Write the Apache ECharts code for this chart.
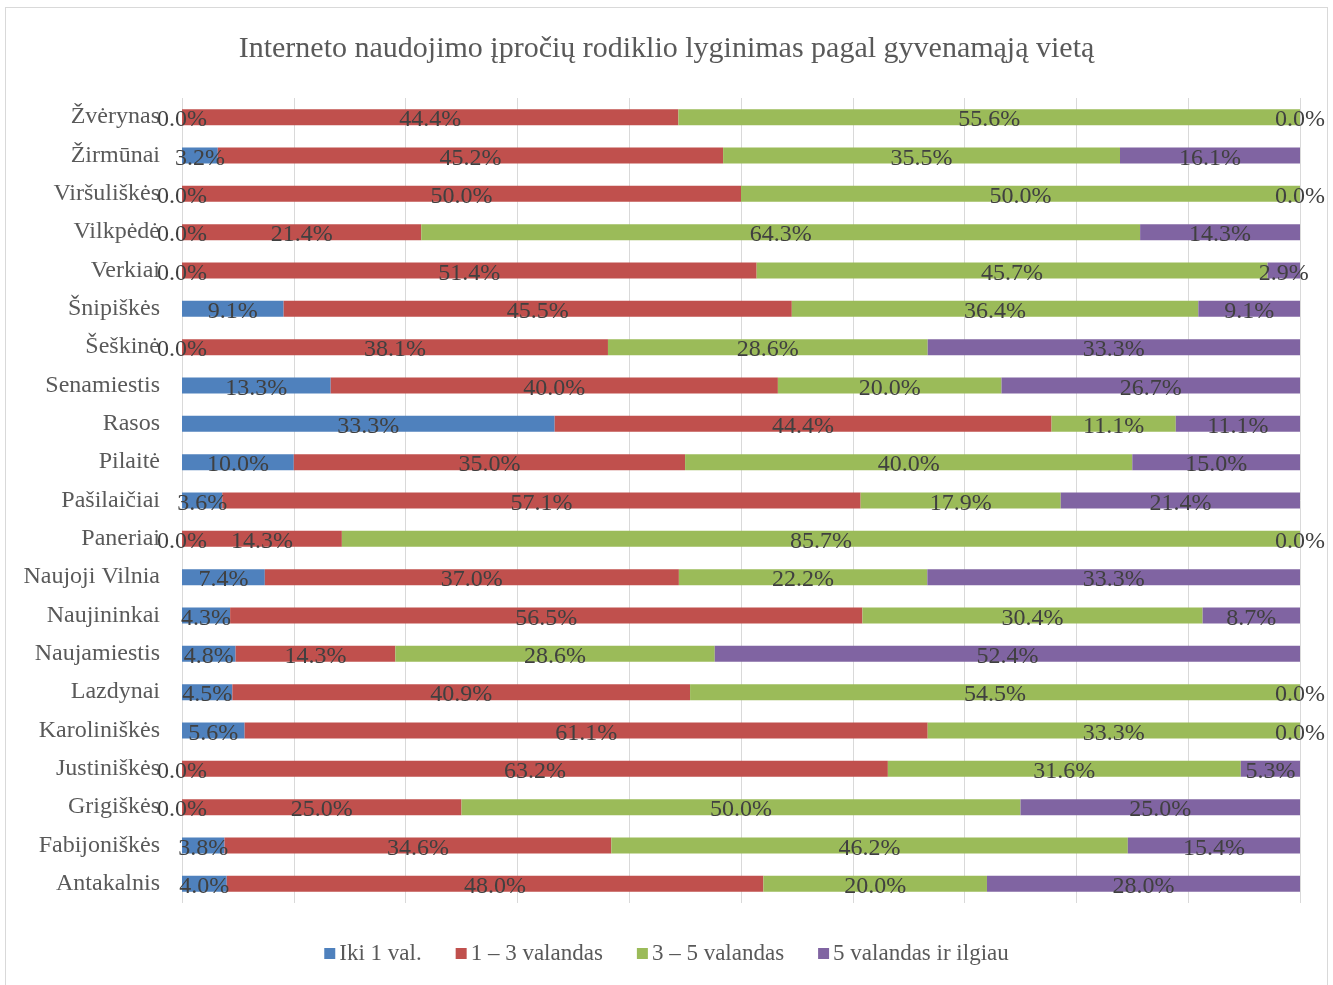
<!DOCTYPE html>
<html>
<head>
<meta charset="utf-8">
<script src="https://cdn.jsdelivr.net/npm/echarts@6/dist/echarts.min.js"></script>
<style>
html,body{margin:0;padding:0;background:#fff;}
#frame{position:absolute;left:5px;top:7px;width:1323px;height:1000px;border:1px solid #D9D9D9;box-sizing:border-box;}
#chart{position:absolute;left:0;top:0;width:1333px;height:985px;}
</style>
</head>
<body>
<div id="frame"></div>
<div id="chart"></div>
<script>
const title = 'Interneto naudojimo įpročių rodiklio lyginimas pagal gyvenamąją vietą';
const categories = ['Antakalnis','Fabijoniškės','Grigiškės','Justiniškės','Karoliniškės','Lazdynai','Naujamiestis','Naujininkai','Naujoji Vilnia','Paneriai','Pašilaičiai','Pilaitė','Rasos','Senamiestis','Šeškinė','Šnipiškės','Verkiai','Vilkpėdė','Viršuliškės','Žirmūnai','Žvėrynas'];
const seriesNames = ['Iki 1 val.','1 – 3 valandas','3 – 5 valandas','5 valandas ir ilgiau'];
const iki1 =   [4.0,3.8,0.0,0.0,5.6,4.5,4.8,4.3,7.4,0.0,3.6,10.0,33.3,13.3,0.0,9.1,0.0,0.0,0.0,3.2,0.0];
const v1to3 =  [48.0,34.6,25.0,63.2,61.1,40.9,14.3,56.5,37.0,14.3,57.1,35.0,44.4,40.0,38.1,45.5,51.4,21.4,50.0,45.2,44.4];
const v3to5 =  [20.0,46.2,50.0,31.6,33.3,54.5,28.6,30.4,22.2,85.7,17.9,40.0,11.1,20.0,28.6,36.4,45.7,64.3,50.0,35.5,55.6];
const v5plus = [28.0,15.4,25.0,5.3,0.0,0.0,52.4,8.7,33.3,0.0,21.4,15.0,11.1,26.7,33.3,9.1,2.9,14.3,0.0,16.1,0.0];
const colors = ['#4F81BD','#C0504D','#9BBB59','#8064A2'];

const raw = [iki1, v1to3, v3to5, v5plus];
const sums = categories.map((c,i)=>raw.reduce((s,a)=>s+a[i],0));
const font = '"Liberation Serif","Times New Roman",serif';

const chart = echarts.init(document.getElementById('chart'));
chart.setOption({
  animation:false,
  color:colors,
  title:{text:title,left:'center',top:29,textStyle:{fontFamily:font,fontSize:30,fontWeight:'normal',color:'#595959'}},
  legend:{top:937,left:'center',itemWidth:11,itemHeight:11,itemGap:34,icon:'rect',
    textStyle:{fontFamily:font,fontSize:23,color:'#595959',padding:[0,0,0,-1]},data:seriesNames},
  grid:{left:182,right:33,top:98,bottom:82,containLabel:false},
  xAxis:{type:'value',min:0,max:100,interval:10,
    axisLabel:{show:false},axisLine:{show:false},axisTick:{show:false},
    splitLine:{lineStyle:{color:'#D9D9D9',width:1}}},
  yAxis:{type:'category',data:categories,
    axisLine:{show:false},axisTick:{show:false},
    axisLabel:{margin:22,fontFamily:font,fontSize:24,color:'#595959',padding:[4,0,0,0]}},
  series: raw.map((arr,k)=>({
    name:seriesNames[k],type:'bar',stack:'total',barWidth:16,
    data:arr.map((v,i)=>({value:v/sums[i]*100, raw:v})),
    label:{show:true,position:'inside',offset:[0,3],fontFamily:font,fontSize:24,color:'#404040',
      formatter:p=>p.data.raw.toFixed(1)+'%'}
  }))
});
</script>
</body>
</html>
